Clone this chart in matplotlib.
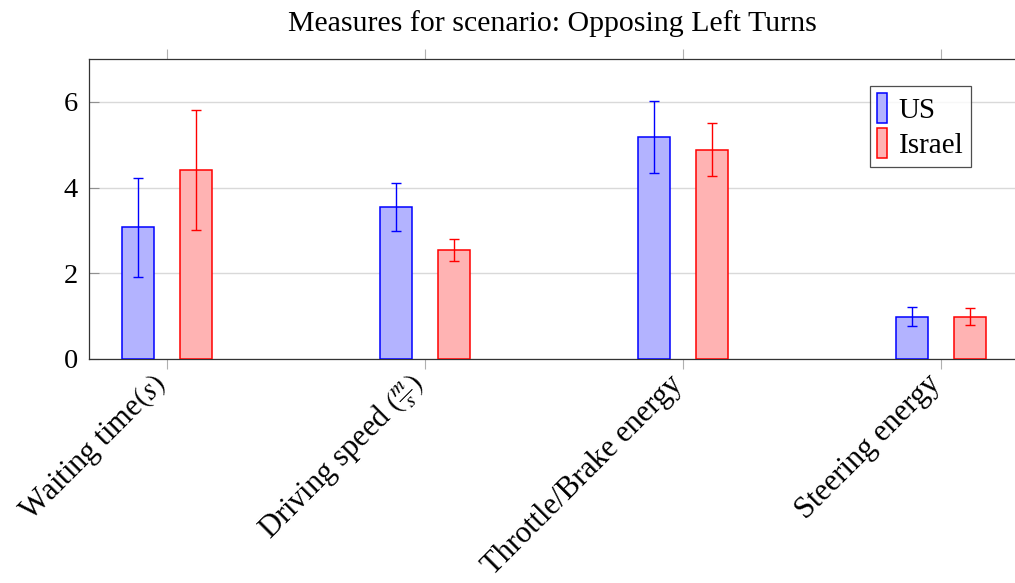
import matplotlib.pyplot as plt
import matplotlib.transforms as mtransforms
import numpy as np

plt.rcParams["font.family"] = ["Liberation Serif", "DejaVu Serif"]
plt.rcParams["mathtext.fontset"] = "stix"

CATEGORIES = [
    "Waiting time$(s)$",
    r"Driving speed $\left(\frac{m}{s}\right)$",
    "Throttle/Brake energy",
    "Steering energy",
]

US_MEAN = [3.07, 3.55, 5.17, 0.99]
US_ERR = [1.16, 0.56, 0.84, 0.22]
ISRAEL_MEAN = [4.40, 2.55, 4.88, 0.99]
ISRAEL_ERR = [1.40, 0.26, 0.62, 0.19]

BAR_WIDTH = 0.124
OFFSET = 0.112

fig = plt.figure(figsize=(10.15, 5.83), dpi=100)
ax = fig.add_axes([89 / 1015, 1 - 359 / 583, 926 / 1015, 300 / 583])

x = np.arange(len(CATEGORIES))

ax.bar(x - OFFSET, US_MEAN, BAR_WIDTH, color="#b3b3ff", edgecolor="#0000ff",
       linewidth=1.1, label="US", zorder=3)
ax.errorbar(x - OFFSET, US_MEAN, yerr=US_ERR, fmt="none", ecolor="#0000ff",
            elinewidth=1.0, capsize=3.8, capthick=1.0, zorder=4)

ax.bar(x + OFFSET, ISRAEL_MEAN, BAR_WIDTH, color="#ffb3b3", edgecolor="#ff0000",
       linewidth=1.1, label="Israel", zorder=3)
ax.errorbar(x + OFFSET, ISRAEL_MEAN, yerr=ISRAEL_ERR, fmt="none", ecolor="#ff0000",
            elinewidth=1.0, capsize=3.8, capthick=1.0, zorder=4)

ax.set_xlim(-0.302, 3.287)
ax.set_ylim(0, 7)
ax.set_yticks([0, 2, 4, 6])
ax.set_xticks(x)
ax.set_xticklabels(CATEGORIES, rotation=45, ha="right", va="center",
                   rotation_mode="anchor", fontsize=22)
ax.tick_params(axis="y", labelsize=20.5, direction="in", length=7, color="#909090",
               pad=8)
ax.tick_params(axis="x", direction="out", length=7, color="#b0b0b0", top=True,
               pad=8)

# nudge the rotated category labels slightly left of their ticks
shift = mtransforms.ScaledTranslation(-5 / 100, 0, fig.dpi_scale_trans)
for lbl in ax.get_xticklabels():
    lbl.set_transform(lbl.get_transform() + shift)

ax.grid(axis="y", color="#d9d9d9", linewidth=1.0, zorder=0)
ax.set_axisbelow(True)

for side in ["left", "top", "bottom"]:
    ax.spines[side].set_color("#333333")
    ax.spines[side].set_linewidth(0.9)
ax.spines["right"].set_visible(False)

ax.set_title("Measures for scenario: Opposing Left Turns", fontsize=21.5, pad=20)

leg = ax.legend(loc="upper left", bbox_to_anchor=(0.843, 0.91), fontsize=21,
                frameon=True, fancybox=False, edgecolor="#222222",
                handlelength=0.35, handleheight=1.2, handletextpad=0.4,
                borderpad=0.25, labelspacing=0.15, borderaxespad=0)
leg.get_frame().set_linewidth(0.9)

fig.savefig("out.png", dpi=100)
